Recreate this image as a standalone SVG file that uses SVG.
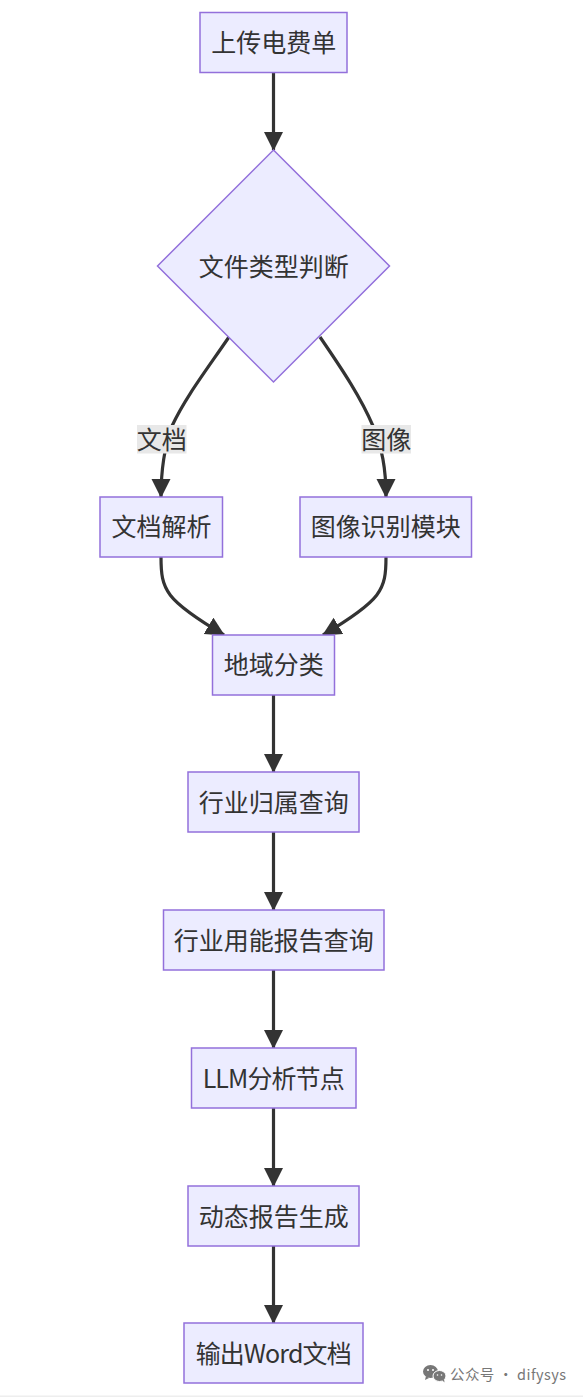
<svg xmlns="http://www.w3.org/2000/svg" width="583" height="1397" viewBox="0 0 583 1397">
<style>
.n{fill:#ececff;stroke:#9370db;stroke-width:1.5}
.t{font-family:"Noto Sans CJK SC","Noto Sans",sans-serif;font-size:25px;fill:#333;text-anchor:middle}
.e{fill:none;stroke:#333;stroke-width:3.2}
.lb{fill:#e8e8e8}
.wm{font-family:"Noto Sans CJK SC","Noto Sans",sans-serif;font-size:14.5px;fill:#777}
</style>
<defs>
<marker id="a" markerUnits="userSpaceOnUse" markerWidth="20" markerHeight="20" refX="18" refY="9.5" orient="auto">
<path d="M0 0L19 9.5L0 19z" fill="#333"/>
</marker>
</defs>
<rect width="583" height="1397" fill="#fff"/>
<rect y="1395.5" width="583" height="1.5" fill="#eee"/>
<g id="connectors">
<path class="e" marker-end="url(#a)" d="M273.5 73V150"/>
<path class="e" marker-end="url(#a)" d="M229 337C205 372 185 398 172 426C164 448 161 468 161 497"/>
<path class="e" marker-end="url(#a)" d="M320 337C344 372 361 398 373 426C382 448 386 468 386 497"/>
<path class="e" marker-end="url(#a)" d="M161 557C161 590 165 600 224 635"/>
<path class="e" marker-end="url(#a)" d="M386 557C386 590 382 600 323 635"/>
<path class="e" marker-end="url(#a)" d="M273.5 695V772"/>
<path class="e" marker-end="url(#a)" d="M273.5 832V910"/>
<path class="e" marker-end="url(#a)" d="M273.5 970V1048"/>
<path class="e" marker-end="url(#a)" d="M273.5 1108V1186"/>
<path class="e" marker-end="url(#a)" d="M273.5 1246V1323"/>
<g id="edge-label-doc"><rect class="lb" x="137" y="425" width="49.500" height="28.500"/><text class="t" x="161.700" y="448.500">文档</text></g>
<g id="edge-label-img"><rect class="lb" x="361.500" y="425" width="49.500" height="28.500"/><text class="t" x="386.200" y="448.500">图像</text></g>
</g>
<g id="n1"><rect class="n" x="200" y="12.500" width="147" height="60"/><text class="t" x="273.700" y="52">上传电费单</text></g>
<g id="n2"><path class="n" d="M273.500 150L389.500 266L273.500 382L157.500 266z"/><text class="t" x="273.700" y="275.500">文件类型判断</text></g>
<g id="n3"><rect class="n" x="100" y="497" width="122.500" height="60"/><text class="t" x="161.500" y="535.500">文档解析</text></g>
<g id="n4"><rect class="n" x="300" y="497" width="171.500" height="60"/><text class="t" x="385.800" y="535.500">图像识别模块</text></g>
<g id="n5"><rect class="n" x="212.500" y="635" width="122" height="60"/><text class="t" x="273.700" y="673.500">地域分类</text></g>
<g id="n6"><rect class="n" x="188" y="772" width="171" height="60"/><text class="t" x="273.700" y="811.500">行业归属查询</text></g>
<g id="n7"><rect class="n" x="163.500" y="910" width="220.500" height="60"/><text class="t" x="273.700" y="949.500">行业用能报告查询</text></g>
<g id="n8"><rect class="n" x="191.500" y="1048" width="164.500" height="60"/><text class="t" x="273.700" y="1087.500" textLength="142">LLM分析节点</text></g>
<g id="n9"><rect class="n" x="188" y="1186" width="171" height="60"/><text class="t" x="273.700" y="1225.500">动态报告生成</text></g>
<g id="n10"><rect class="n" x="184" y="1323" width="179" height="60"/><text class="t" x="273.700" y="1362.500" textLength="156">输出Word文档</text></g>
<g fill="#777">
<ellipse cx="430.500" cy="1371.500" rx="7.500" ry="6.500"/>
<path d="M426 1376l-1 4 4-2z"/>
<ellipse cx="439.500" cy="1376" rx="6.500" ry="5.500" stroke="#fff" stroke-width="1"/>
<path d="M442 1380l2.500 2.500-.5-3.500z"/>
<circle cx="428" cy="1370" r="1" fill="#fff"/><circle cx="433" cy="1370" r="1" fill="#fff"/>
<circle cx="437.500" cy="1375" r=".8" fill="#fff"/><circle cx="441.500" cy="1375" r=".8" fill="#fff"/>
</g>
<text class="wm" x="450" y="1379.500" textLength="116">公众号 · difysys</text>
</svg>
